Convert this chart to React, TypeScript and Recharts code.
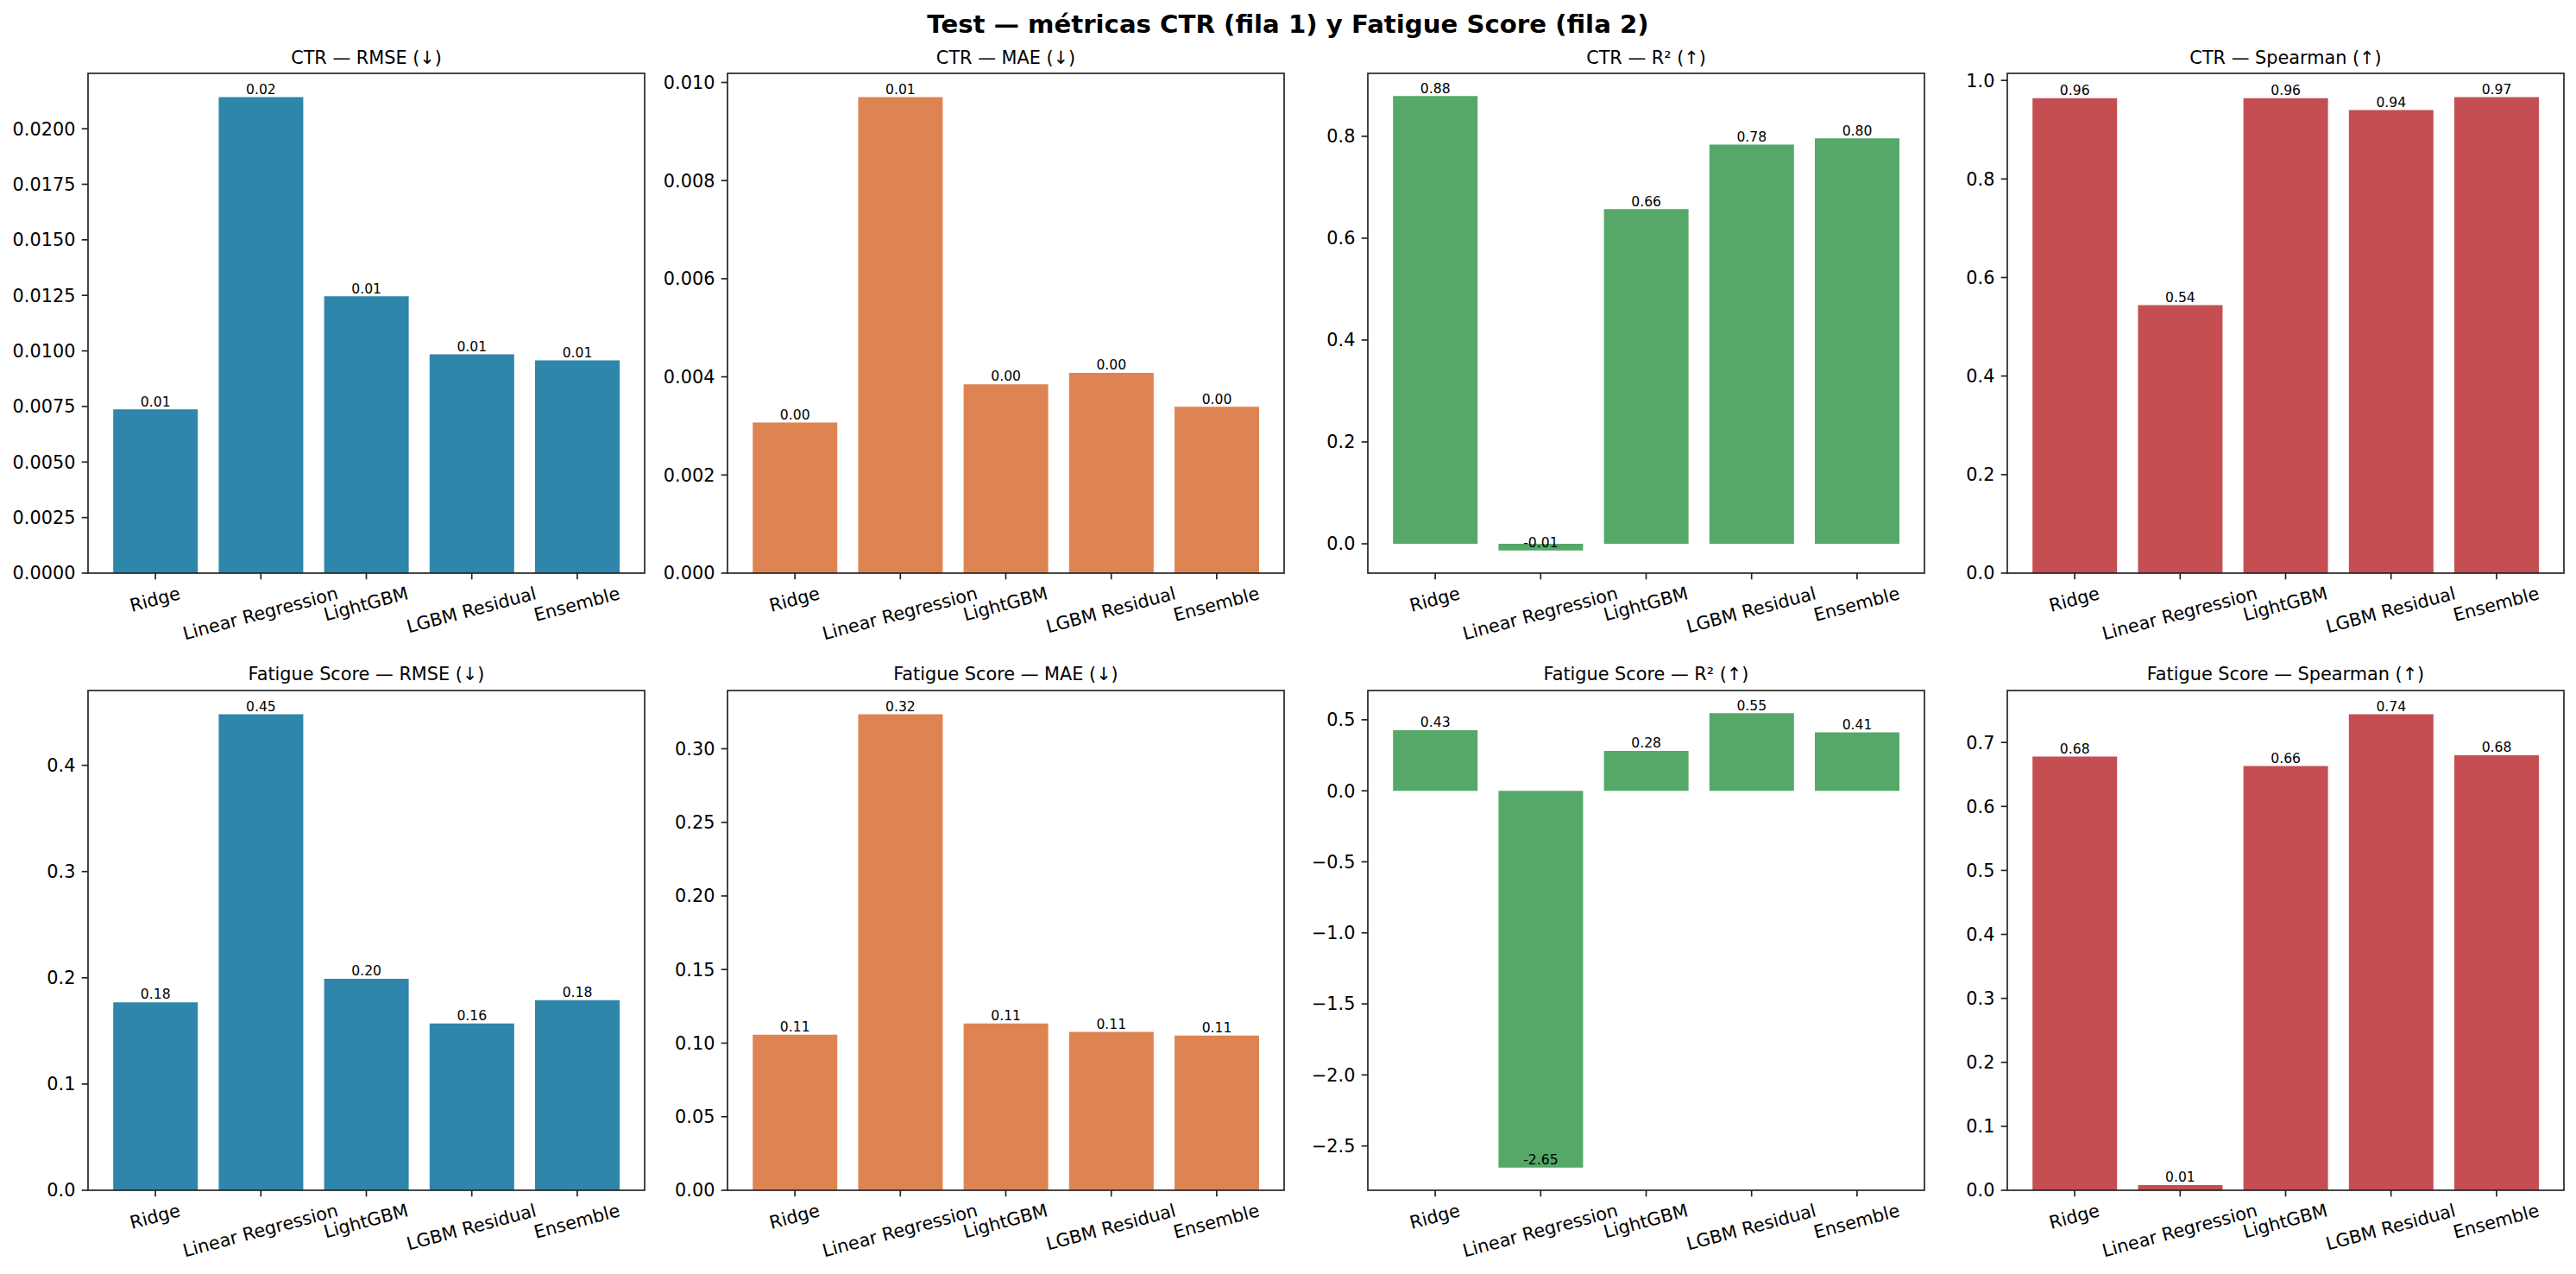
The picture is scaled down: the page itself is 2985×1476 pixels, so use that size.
import { BarChart, Bar, XAxis, YAxis, LabelList } from "recharts";

const MODELS = ["Ridge", "Linear Regression", "LightGBM", "LGBM Residual", "Ensemble"];

// test metrics per model, same order as MODELS
const CTR_RMSE = [0.00737, 0.02142, 0.01246, 0.00985, 0.00958];
const CTR_MAE = [0.00307, 0.0097, 0.00385, 0.00408, 0.00339];
const CTR_R2 = [0.879, -0.013, 0.657, 0.784, 0.796];
const CTR_SPEARMAN = [0.964, 0.544, 0.964, 0.94, 0.966];
const FAT_RMSE = [0.177, 0.448, 0.199, 0.157, 0.179];
const FAT_MAE = [0.1057, 0.3234, 0.1134, 0.1076, 0.1051];
const FAT_R2 = [0.426, -2.652, 0.28, 0.546, 0.411];
const FAT_SPEARMAN = [0.678, 0.008, 0.663, 0.744, 0.68];

const TICKS_CTR_RMSE = [0, 0.0025, 0.005, 0.0075, 0.01, 0.0125, 0.015, 0.0175, 0.02];
const TICKS_CTR_MAE = [0, 0.002, 0.004, 0.006, 0.008, 0.01];
const TICKS_CTR_R2 = [0, 0.2, 0.4, 0.6, 0.8];
const TICKS_CTR_SPEARMAN = [0, 0.2, 0.4, 0.6, 0.8, 1.0];
const TICKS_FAT_RMSE = [0, 0.1, 0.2, 0.3, 0.4];
const TICKS_FAT_MAE = [0, 0.05, 0.1, 0.15, 0.2, 0.25, 0.3];
const TICKS_FAT_R2 = [-2.5, -2, -1.5, -1, -0.5, 0, 0.5];
const TICKS_FAT_SPEARMAN = [0, 0.1, 0.2, 0.3, 0.4, 0.5, 0.6, 0.7];

const BLUE = "#2E86AB";
const ORANGE = "#DD8452";
const GREEN = "#55A868";
const RED = "#C44E52";

const PANELS = [
  { title: "CTR — RMSE (↓)", values: CTR_RMSE, ticks: TICKS_CTR_RMSE, dec: 4, color: BLUE },
  { title: "CTR — MAE (↓)", values: CTR_MAE, ticks: TICKS_CTR_MAE, dec: 3, color: ORANGE },
  { title: "CTR — R² (↑)", values: CTR_R2, ticks: TICKS_CTR_R2, dec: 1, color: GREEN },
  { title: "CTR — Spearman (↑)", values: CTR_SPEARMAN, ticks: TICKS_CTR_SPEARMAN, dec: 1, color: RED },
  { title: "Fatigue Score — RMSE (↓)", values: FAT_RMSE, ticks: TICKS_FAT_RMSE, dec: 1, color: BLUE },
  { title: "Fatigue Score — MAE (↓)", values: FAT_MAE, ticks: TICKS_FAT_MAE, dec: 2, color: ORANGE },
  { title: "Fatigue Score — R² (↑)", values: FAT_R2, ticks: TICKS_FAT_R2, dec: 1, color: GREEN },
  { title: "Fatigue Score — Spearman (↑)", values: FAT_SPEARMAN, ticks: TICKS_FAT_SPEARMAN, dec: 1, color: RED },
];

const FONT = '"DejaVu Sans", sans-serif';
const INK = "#222";
const SPINE_W = 1.67;
const COL_LEFT = [102, 843, 1585, 2326];
const ROW_TOP = [85.4, 799.6];
const AX_H = 579;
const AX_W = 645;
const Y_W = 110;
const X_H = 90;
const PAD_T = 4;
const PAD_R = 6;
const TICK_FS = 20.8;
const LABEL_FS = 15.6;
const TICK_LEN = 7.3;

// matplotlib-like autoscale: bars stick to zero, 5% margin elsewhere
function domainFor(values: number[]): [number, number] {
  const lo = Math.min(0, ...values);
  const hi = Math.max(0, ...values);
  const span = hi - lo;
  return [lo < 0 ? lo - 0.05 * span : 0, hi + 0.05 * span];
}

let ctx: CanvasRenderingContext2D | null = null;
function textWidth(s: string, fs: number) {
  if (!ctx) ctx = document.createElement("canvas").getContext("2d");
  if (!ctx) return s.length * fs * 0.6;
  ctx.font = `${fs}px "DejaVu Sans"`;
  return ctx.measureText(s).width;
}

// category labels turned 15°, centred under the tick like rotation=15
function RotatedTick(props: any) {
  const { x, y, payload } = props;
  const label = String(payload.value);
  const w = textWidth(label, TICK_FS);
  const h = TICK_FS * 0.98;
  const a = (15 * Math.PI) / 180;
  const cy = y + (w * Math.sin(a) + h * Math.cos(a)) / 2;
  return (
    <text
      x={x}
      y={cy}
      dy={0.26 * TICK_FS}
      textAnchor="middle"
      fontSize={TICK_FS}
      fill="#000"
      transform={`rotate(-15 ${x} ${cy})`}
    >
      {label}
    </text>
  );
}

// value text sits on the bar end (va="bottom"), also for negative bars
function ValueLabel(props: any) {
  const { x, y, width, height, value } = props;
  const top = Math.min(y, y + height);
  const bottom = Math.max(y, y + height);
  const yv = value >= 0 ? top : bottom;
  return (
    <text x={x + width / 2} y={yv - 0.236 * LABEL_FS} textAnchor="middle" fontSize={LABEL_FS} fill="#000">
      {Number(value).toFixed(2)}
    </text>
  );
}

function Panel({ p, left, top }: { p: (typeof PANELS)[number]; left: number; top: number }) {
  const data = MODELS.map((name, i) => ({ name, value: p.values[i] }));
  const domain = domainFor(p.values);
  const fmt = (v: number) => v.toFixed(p.dec).replace("-", "−");
  return (
    <div style={{ position: "absolute", left: left - Y_W, top: top - PAD_T }}>
      <div
        style={{
          position: "absolute",
          left: Y_W,
          width: AX_W,
          top: PAD_T - 18.8 - 0.48 * 20.8,
          fontSize: 20.8,
          lineHeight: "20.8px",
          textAlign: "center",
          whiteSpace: "nowrap",
        }}
      >
        {p.title}
      </div>
      <BarChart
        width={Y_W + AX_W + PAD_R}
        height={PAD_T + AX_H + X_H}
        data={data}
        margin={{ top: PAD_T, right: PAD_R, left: 0, bottom: 0 }}
        barCategoryGap="10%"
      >
        <XAxis
          dataKey="name"
          height={X_H}
          interval={0}
          padding={{ left: 17, right: 17 }}
          axisLine={false}
          tickLine={{ stroke: INK, strokeWidth: SPINE_W }}
          tickSize={TICK_LEN}
          tickMargin={TICK_LEN}
          tick={<RotatedTick />}
        />
        <YAxis
          width={Y_W}
          type="number"
          domain={domain}
          ticks={p.ticks}
          interval={0}
          tickFormatter={fmt}
          axisLine={false}
          tickLine={{ stroke: INK, strokeWidth: SPINE_W }}
          tickSize={TICK_LEN}
          tickMargin={TICK_LEN}
          tick={{ fill: "#000", fontSize: TICK_FS }}
        />
        <Bar dataKey="value" fill={p.color} isAnimationActive={false}>
          <LabelList dataKey="value" content={<ValueLabel />} />
        </Bar>
      </BarChart>
      {/* axes frame: all four spines */}
      <svg
        width={AX_W + 4}
        height={AX_H + 4}
        style={{ position: "absolute", left: Y_W - 2, top: PAD_T - 2, pointerEvents: "none" }}
      >
        <rect x={2} y={2} width={AX_W} height={AX_H} fill="none" stroke={INK} strokeWidth={SPINE_W} />
      </svg>
    </div>
  );
}

export default function App() {
  return (
    <div
      style={{
        position: "relative",
        width: 2985,
        height: 1476,
        background: "#fff",
        fontFamily: FONT,
        color: "#000",
        overflow: "hidden",
      }}
    >
      <style>{"body{margin:0}"}</style>
      <div
        style={{
          position: "absolute",
          left: 0,
          width: 2985,
          top: 28.5 - 0.48 * 29.2,
          fontSize: 29.2,
          lineHeight: "29.2px",
          fontWeight: "bold",
          textAlign: "center",
        }}
      >
        Test — métricas CTR (fila 1) y Fatigue Score (fila 2)
      </div>
      {PANELS.map((p, i) => (
        <Panel key={p.title} p={p} left={COL_LEFT[i % 4]} top={ROW_TOP[Math.floor(i / 4)]} />
      ))}
    </div>
  );
}
